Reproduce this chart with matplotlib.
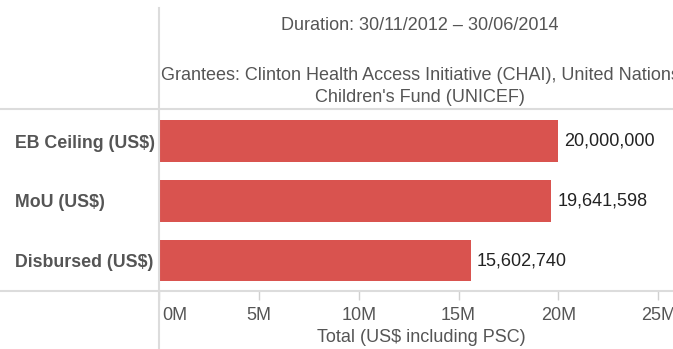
import matplotlib.pyplot as plt
import matplotlib.transforms as mtransforms
from matplotlib.lines import Line2D
from matplotlib.ticker import FuncFormatter

plt.rcParams['font.family'] = ['Liberation Sans', 'DejaVu Sans']

# Montos del proyecto
categories = ['EB Ceiling (US$)', 'MoU (US$)', 'Disbursed (US$)']
amounts = [20000000, 19641598, 15602740]
ticks = [0, 5000000, 10000000, 15000000, 20000000, 25000000]

duration = 'Duration: 30/11/2012 \u2013 30/06/2014'
grantees_1 = 'Grantees: Clinton Health Access Initiative (CHAI), United Nations'
grantees_2 = "Children's Fund (UNICEF)"

W, H = 673, 349
fig = plt.figure(figsize=(W / 100, H / 100), dpi=100)

# zona del grafico en pixeles
x0, x1 = 159.2, 673
y_top, y_bot = 109, 291
ax = fig.add_axes([x0 / W, 1 - y_bot / H, (x1 - x0) / W, (y_bot - y_top) / H])

ypos = list(range(len(categories)))
ax.barh(ypos, amounts, height=0.70, color='#d9534f')

for y, v in zip(ypos, amounts):
    ax.annotate(f'{v:,}', (v, y), xytext=(6, 0), textcoords='offset pixels',
                va='center', ha='left', fontsize=13, color='#222222')

ax.set_xlim(0, 25.74e6)
ax.set_ylim(2.51, -0.536)
ax.set_yticks(ypos)
ax.set_yticklabels(categories, fontsize=12.8, fontweight='bold', color='#555555')
# etiquetas alineadas a la izquierda, empiezan en x=15px
ax.tick_params(axis='y', length=0, pad=(x0 - 15) * 72 / 100)
for lab in ax.get_yticklabels():
    lab.set_ha('left')

ax.set_xticks(ticks)
ax.xaxis.set_major_formatter(FuncFormatter(lambda v, p: f'{int(v / 1e6)}M'))
ax.tick_params(axis='x', length=6.5, width=1, color='#d0d0d0', labelsize=13,
               labelcolor='#555555', pad=5)

for s in ax.spines.values():
    s.set_visible(False)

fig.canvas.draw()
first = ax.get_xticklabels()[0]
first.set_ha('left')
first.set_transform(first.get_transform() + mtransforms.ScaledTranslation(3 / 100, 0, fig.dpi_scale_trans))

# lineas de separacion
line_c = '#dcdcdc'
fig.add_artist(Line2D([0, 1], [1 - y_top / H] * 2, color=line_c, lw=1.5, transform=fig.transFigure))
fig.add_artist(Line2D([0, 1], [1 - y_bot / H] * 2, color=line_c, lw=1.5, transform=fig.transFigure))
fig.add_artist(Line2D([x0 / W] * 2, [1 - 8 / H, 0], color=line_c, lw=1.5, transform=fig.transFigure))

# textos de cabecera
fig.text(420 / W, 1 - 25 / H, duration, ha='center', va='center', fontsize=13, color='#555555')
fig.text(420 / W, 1 - 75 / H, grantees_1, ha='center', va='center', fontsize=13, color='#555555')
fig.text(420 / W, 1 - 98 / H, grantees_2, ha='center', va='center', fontsize=13, color='#555555')

fig.text(421 / W, 1 - 338 / H, 'Total (US$ including PSC)', ha='center', va='center',
         fontsize=13, color='#555555')

fig.savefig('out.png', dpi=100)
